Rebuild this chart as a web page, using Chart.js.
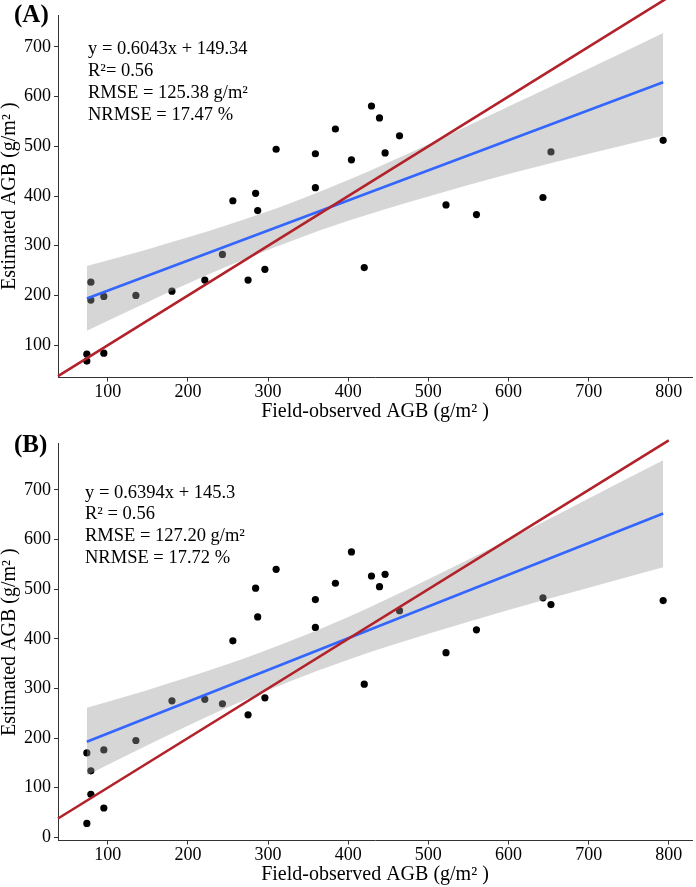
<!DOCTYPE html>
<html>
<head>
<meta charset="utf-8">
<script src="https://cdn.jsdelivr.net/npm/chart.js@4.4.1/dist/chart.umd.min.js"></script>
<style>
   body { margin: 0; background: #fff; }
   canvas { display: block; }
</style>
</head>
<body>
<canvas id="chartA" width="696" height="430"></canvas>
<canvas id="chartB" width="696" height="457"></canvas>
<script>
// data
const xTicks = [100, 200, 300, 400, 500, 600, 700, 800];
const yTicksA = [100, 200, 300, 400, 500, 600, 700];
const yTicksB = [0, 100, 200, 300, 400, 500, 600, 700];

const observedAGB = [73.8, 73.8, 78.8, 78.8, 95, 95, 135, 180, 221, 243, 256, 275, 284.4, 287, 296,
   310, 359, 359, 384, 404, 420, 429, 439, 446, 464, 522, 560, 643, 653, 793];
const estimatedA = [82, 68, 226.7, 190.7, 198, 84, 200, 208.7, 231, 282.5, 390.5, 231, 405.3, 370.7, 252.5,
   494, 485, 416.7, 534.7, 472.7, 256, 581, 557, 486.7, 521, 382, 362.7, 397, 488.7, 512];
const estimatedB = [170, 28, 134, 86.6, 176, 59, 195, 275, 278, 269, 396, 246.7, 502, 444, 281,
   540, 479, 423, 512, 575, 308.6, 526.6, 505, 530, 456.6, 372, 418, 482.6, 469, 477];

// 1:1 line
const oneToOneX = [37.8, 800];
const oneToOneY = [37.8, 800];

// fitted lines (end points)
const fitX = [73.8, 793];
const fitA = [193.9, 628.6];
const fitB = [192.5, 652.4];

// confidence band
const bandX = [73.8, 150, 250, 330, 400, 500, 600, 700, 793];
const bandLowA = [129, 187, 259, 310, 350, 399, 444, 485, 521];
const bandHighA = [259, 293, 342, 387, 432, 504, 580, 656, 728];
const bandLowB = [125, 186, 262, 316, 358, 410, 458, 503, 544];
const bandHighB = [261, 297, 349, 397, 444, 520, 600, 683, 760];

const statsA = ["y = 0.6043x + 149.34", "R\u00b2= 0.56", "RMSE = 125.38 g/m\u00b2", "NRMSE = 17.47 %"];
const statsB = ["y = 0.6394x + 145.3", "R\u00b2 = 0.56", "RMSE = 127.20 g/m\u00b2", "NRMSE = 17.72 %"];

const SERIF = "'Liberation Serif', 'Times New Roman', serif";

function pts(xs, ys) {
   return xs.map((x, i) => ({ x: x, y: ys[i] }));
}

// writes the panel tag and the stats block
function textPlugin(tag, lines, left, top, gap) {
   return {
      id: "statText",
      afterDraw(chart) {
         const ctx = chart.ctx;
         ctx.save();
         ctx.fillStyle = "#000";
         ctx.textBaseline = "middle";
         ctx.textAlign = "left";
         ctx.font = "bold 25px " + SERIF;
         ctx.fillText(tag, 14, 16);
         ctx.font = "18.5px " + SERIF;
         lines.forEach((t, i) => ctx.fillText(t, left, top + i * gap));
         ctx.restore();
      },
   };
}

function makePanel(id, est, fitY, low, high, yMin, yMax, yTicks, pad, stats, tag, textLeft, textTop) {
   const axisGrid = { display: true, drawOnChartArea: false, drawTicks: true, tickLength: 4, color: "#333" };
   const axisBorder = { display: true, color: "#333", width: 1 };
   const tickFont = { family: SERIF, size: 18 };
   const titleFont = { family: SERIF, size: 20, lineHeight: 1 };

   new Chart(document.getElementById(id), {
      type: "scatter",
      data: {
         datasets: [
            {
               label: "1:1",
               data: pts(oneToOneX, oneToOneY),
               showLine: true,
               borderColor: "#b2222a",
               borderWidth: 2.6,
               pointRadius: 0,
               clip: false,
               order: 0,
            },
            {
               label: "fit",
               data: pts(fitX, fitY),
               showLine: true,
               borderColor: "#3366ff",
               borderWidth: 2.6,
               pointRadius: 0,
               order: 1,
            },
            {
               label: "low",
               data: pts(bandX, low),
               showLine: true,
               borderColor: "transparent",
               borderWidth: 0,
               pointRadius: 0,
               cubicInterpolationMode: "monotone",
               order: 2,
            },
            {
               label: "high",
               data: pts(bandX, high),
               showLine: true,
               borderColor: "transparent",
               borderWidth: 0,
               pointRadius: 0,
               cubicInterpolationMode: "monotone",
               backgroundColor: "rgba(153,153,153,0.4)",
               fill: "-1",
               order: 2,
            },
            {
               label: "obs",
               data: pts(observedAGB, est),
               backgroundColor: "#000",
               borderWidth: 0,
               pointRadius: 3.6,
               order: 3,
            },
         ],
      },
      options: {
         responsive: false,
         animation: false,
         layout: { padding: pad },
         plugins: { legend: { display: false }, tooltip: { enabled: false } },
         scales: {
            x: {
               type: "linear",
               min: 37.8,
               max: 829,
               grid: axisGrid,
               border: axisBorder,
               ticks: { font: tickFont, color: "#000", padding: 0, maxRotation: 0, autoSkip: false },
               afterBuildTicks: (s) => { s.ticks = xTicks.map((v) => ({ value: v })); },
               afterFit: (s) => { s.height = 44; },
               title: { display: true, text: "Field-observed AGB (g/m\u00b2 )", font: titleFont, color: "#000", padding: 0 },
            },
            y: {
               type: "linear",
               min: yMin,
               max: yMax,
               grid: axisGrid,
               border: axisBorder,
               ticks: { font: tickFont, color: "#000", padding: 3, autoSkip: false },
               afterBuildTicks: (s) => { s.ticks = yTicks.map((v) => ({ value: v })); },
               afterFit: (s) => { s.width = 58; },
               title: { display: true, text: "Estimated AGB (g/m\u00b2 )", font: titleFont, color: "#000", padding: 0 },
            },
         },
      },
      plugins: [textPlugin(tag, stats, textLeft, textTop, 21.9)],
   });
}

makePanel("chartA", estimatedA, fitA, bandLowA, bandHighA, 35, 764, yTicksA,
   { top: 15, right: 1, bottom: 8.5, left: 0 }, statsA, "(A)", 88, 49.3);
makePanel("chartB", estimatedB, fitB, bandLowB, bandHighB, -6.5, 793, yTicksB,
   { top: 12, right: 1, bottom: 2.5, left: 0 }, statsB, "(B)", 85, 62.7);
</script>
</body>
</html>
